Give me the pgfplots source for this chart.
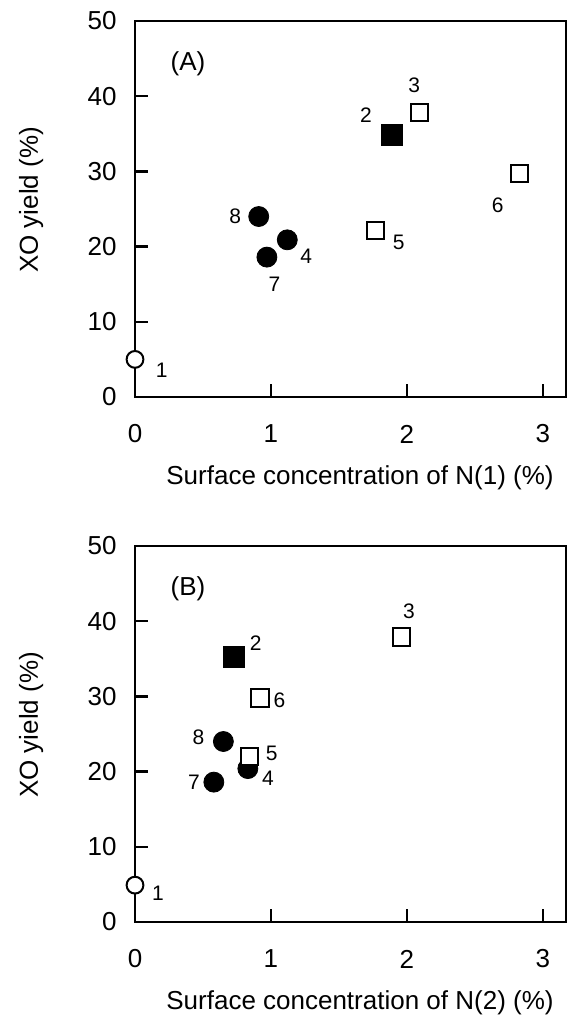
\documentclass[border=0pt]{standalone}
\usepackage{fontspec}
\setmainfont{Liberation Sans}
\usepackage{pgfplots}
\pgfplotsset{compat=1.18}

\newcommand{\lbl}{\fontsize{13}{15}\selectfont}
\newcommand{\ptl}{\fontsize{10.5}{12}\selectfont}

\pgfplotsset{
  panel/.style={
    scale only axis,
    width=215.5pt, height=188pt,
    anchor=south west,
    xmin=0, xmax=3.17, ymin=0, ymax=50,
    xtick={0,1,2,3}, ytick={0,10,20,30,40,50},
    xtick pos=left, ytick pos=left,
    tick align=inside,
    major tick length=6.5pt,
    axis line style={line width=1.25pt},
    every tick/.style={black, line width=1.25pt},
    tick label style={font=\lbl},
    /pgf/number format/assume math mode=true,
    xticklabel style={anchor=center, yshift=-18.5pt},
    yticklabel style={anchor=east, inner sep=0pt, xshift=-9pt},
    label style={font=\lbl},
    xlabel style={at={(axis description cs:0.5,0)}, anchor=center, yshift=-40.5pt, xshift=4.75pt},
    ylabel style={at={(axis description cs:-0.241,0.524)}, anchor=center},
    ylabel={XO yield (\%)},
    clip=false,
  },
  opencirc/.style={only marks, mark=*, mark size=4.2pt,
    mark options={fill=white, draw=black, line width=1pt}},
  fullcirc/.style={only marks, mark=*, mark size=5pt,
    mark options={fill=black, draw=black}},
  fullsq/.style={only marks, mark=square*, mark size=5.2pt,
    mark options={fill=black, draw=black}},
  opensq/.style={only marks, mark=square*, mark size=4.3pt,
    mark options={fill=white, draw=black, line width=1pt}},
}

\begin{document}
\begin{tikzpicture}
\path[use as bounding box] (0,0) rectangle (283.5pt,510.5pt);

% (A)
\begin{axis}[panel, at={(67.5pt,312pt)},
    xlabel={Surface concentration of N(1) (\%)}]
\addplot[opencirc] coordinates {(0,5.0)};
\addplot[fullcirc] coordinates {(1.12,20.9) (0.97,18.6) (0.91,24.0)};
\addplot[fullsq] coordinates {(1.89,34.9)};
\addplot[opensq] coordinates {(2.09,37.8) (1.77,22.1) (2.83,29.7)};
\node[font=\lbl] at (axis cs:0.39,44.3) {(A)};
\node[font=\ptl, xshift=13.3pt, yshift=-5.3pt] at (axis cs:0,5.0) {1};
\node[font=\ptl, xshift=-13pt, yshift=9.5pt] at (axis cs:1.89,34.9) {2};
\node[font=\ptl, xshift=-2.5pt, yshift=13.5pt] at (axis cs:2.09,37.8) {3};
\node[font=\ptl, xshift=9.5pt, yshift=-8.3pt] at (axis cs:1.12,20.9) {4};
\node[font=\ptl, xshift=11.5pt, yshift=-5.8pt] at (axis cs:1.77,22.1) {5};
\node[font=\ptl, xshift=-11pt, yshift=-15.7pt] at (axis cs:2.83,29.7) {6};
\node[font=\ptl, xshift=3.8pt, yshift=-13.8pt] at (axis cs:0.97,18.6) {7};
\node[font=\ptl, xshift=-11.7pt, yshift=0pt] at (axis cs:0.91,24.0) {8};
\end{axis}

% (B)
\begin{axis}[panel, at={(67.5pt,49.5pt)},
    xlabel={Surface concentration of N(2) (\%)}]
\addplot[opencirc] coordinates {(0,4.9)};
\addplot[fullcirc] coordinates {(0.83,20.4) (0.58,18.6) (0.65,24.0)};
\addplot[fullsq] coordinates {(0.73,35.2)};
\addplot[opensq] coordinates {(1.96,37.9) (0.84,22.0) (0.92,29.8)};
\node[font=\lbl] at (axis cs:0.39,44.3) {(B)};
\node[font=\ptl, xshift=11.5pt, yshift=-4.2pt] at (axis cs:0,4.9) {1};
\node[font=\ptl, xshift=10.7pt, yshift=7.2pt] at (axis cs:0.73,35.2) {2};
\node[font=\ptl, xshift=3.7pt, yshift=12.7pt] at (axis cs:1.96,37.9) {3};
\node[font=\ptl, xshift=10pt, yshift=-5pt] at (axis cs:0.83,20.4) {4};
\node[font=\ptl, xshift=11.3pt, yshift=1.7pt] at (axis cs:0.84,22.0) {5};
\node[font=\ptl, xshift=9.7pt, yshift=-1.2pt] at (axis cs:0.92,29.8) {6};
\node[font=\ptl, xshift=-10pt, yshift=0pt] at (axis cs:0.58,18.6) {7};
\node[font=\ptl, xshift=-12.5pt, yshift=2pt] at (axis cs:0.65,24.0) {8};
\end{axis}
\end{tikzpicture}
\end{document}
